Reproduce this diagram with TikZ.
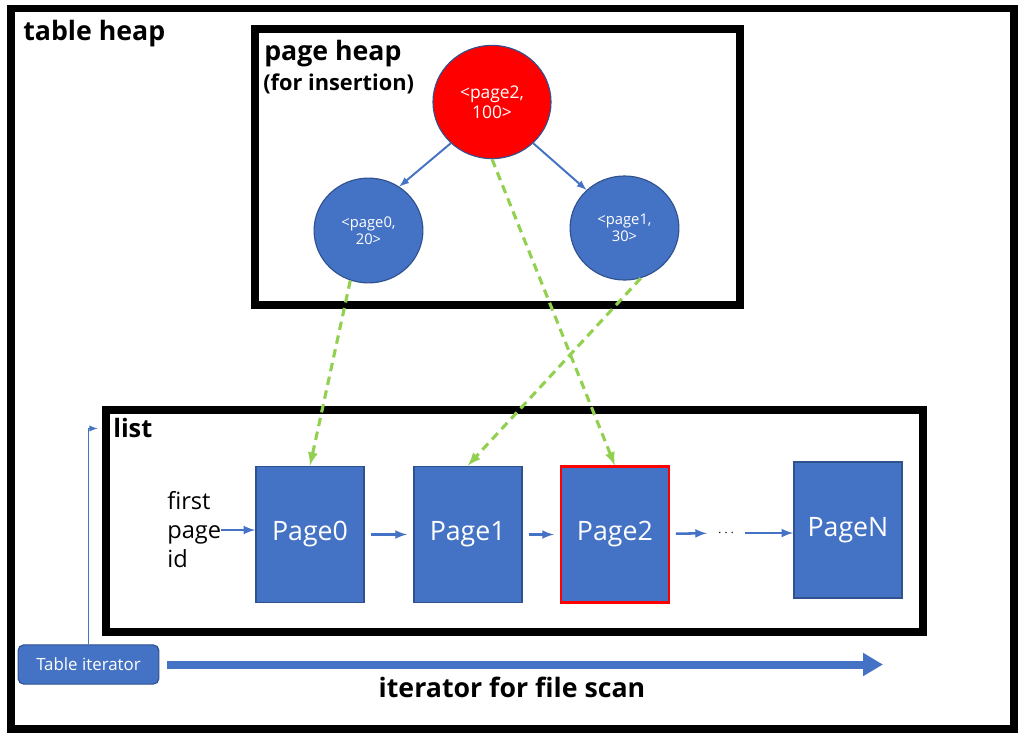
\documentclass[tikz,border=0pt]{standalone}
\usepackage{fontspec}
\setmainfont{Open Sans}
\usetikzlibrary{arrows,arrows.meta}
\usetikzlibrary{calc}
\usetikzlibrary{positioning}
\usetikzlibrary{shapes.geometric,fit}
\definecolor{officeblue}{HTML}{4472C4}
\definecolor{edgeblue}{HTML}{2F528F}
\definecolor{ptrgreen}{HTML}{92D050}
\definecolor{rootred}{HTML}{FF0000}

\begin{document}
\begin{tikzpicture}[
	x=0.025cm, y=-0.025cm,
  > = latex,
  frame/.style = {draw, line width=5pt, inner sep=0pt},
  title/.style = {anchor=north west, inner sep=0pt, align=left, font=\bfseries\fontsize{19}{22}\selectfont},
  heapnode/.style = {ellipse, draw=edgeblue, fill=officeblue, line width=0.8pt, text=white, align=center, inner sep=0pt, font=\fontsize{10.5}{12.5}\selectfont},
  pagebox/.style = {draw=edgeblue, fill=officeblue, line width=1.2pt, text=white, minimum width=2.7cm, minimum height=3.4cm, font=\fontsize{19}{22}\selectfont},
  link/.style = {->, draw=officeblue, line width=1.8pt, shorten <=0.15cm, shorten >=0.15cm},
  heapedge/.style = {->, draw=officeblue, line width=1.4pt},
  ptr/.style = {->, draw=ptrgreen, line width=2.2pt, dash pattern=on 6pt off 4pt}
  ]
	\useasboundingbox (0,0) rectangle (1028,739);

	% frames
	\node[frame, fit={(11,8.5) (1014,729)}] (tableheap) {};
	\node[frame, fit={(255,29) (740,305)}] (pageheap) {};
	\node[frame, fit={(106,410) (923,632)}] (listbox) {};

	\node[title] (tabletitle) at (23,20) {table heap};
	\node[title] (heaptitle) at (264,40) {page heap};
	\node[title, font=\bfseries\fontsize{15.5}{18}\selectfont] (heapsub) at ($(heaptitle.south west)+(-1,6)$) {(for insertion)};
	\node[title, font=\bfseries\fontsize{18}{21}\selectfont] (listtitle) at (113,418) {list};

	% heap
	\node[heapnode, fill=rootred, minimum width=2.95cm, minimum height=2.83cm, font=\fontsize{12.4}{14.5}\selectfont] (root) at (492,102) {<page2,\\100>};
	\node[heapnode, minimum width=2.72cm, minimum height=2.62cm] (c0) at (368.5,230.5) {<page0,\\20>};
	\node[heapnode, minimum width=2.72cm, minimum height=2.60cm] (c1) at (624.5,228) {<page1,\\30>};

	\draw[heapedge] (root.225) -- (c0.55);
	\draw[heapedge] (root.-45) -- (c1.135);

	% pages
	\node[pagebox] (page0) at (310,534.5) {Page0};
	\node[pagebox, right=1.2cm of page0] (page1) {Page1};
	\node[pagebox, draw=rootred, line width=1.5pt, right=0.93cm of page1] (page2) {Page2};
	\node (dots) at (726,533) {$\cdots$};
	\node[pagebox] (pageN) at (848,530) {PageN};

	\node[anchor=west, inner sep=0pt, align=left, font=\fontsize{16.8}{20.6}\selectfont] (firstid) at (167,530) {first\\page\\id};

	\draw[link, shorten <=0pt, shorten >=0pt] (firstid.east) -- (firstid.east -| page0.west);
	\draw[link] (page0) -- (page1);
	\draw[link] (page1) -- (page2);
	\draw[link] (page2) -- (dots);
	\draw[link, shorten >=0pt] (dots.east) -- (dots.east -| pageN.west);

	\draw[ptr] (c0.-110) -- (page0.north);
	\draw[ptr] (c1.-72) -- (page1.north);
	\draw[ptr] (root.south) -- (page2.north);

	% iterator
	\node[draw=edgeblue, fill=officeblue, rounded corners=4pt, line width=0.8pt, text=white, minimum width=3.52cm, minimum height=0.98cm, font=\fontsize{12}{14}\selectfont] (tableiter) at (88.5,664.5) {Table iterator};
	\coordinate (scanend) at (883,663);

	\draw[->, draw=officeblue, line width=1pt] (tableiter.north) |- ($(listbox.north west)+(-5,22)$);
	\draw[-{Triangle[length=0.5cm,width=0.55cm]}, draw=officeblue, fill=officeblue, line width=5.7pt, shorten <=0.2cm] (tableiter.east) -- (tableiter.east -| scanend);
	\node[font=\bfseries\fontsize{19}{22}\selectfont] (scanlabel) at (512,687) {iterator for file scan};

\end{tikzpicture}
\end{document}
